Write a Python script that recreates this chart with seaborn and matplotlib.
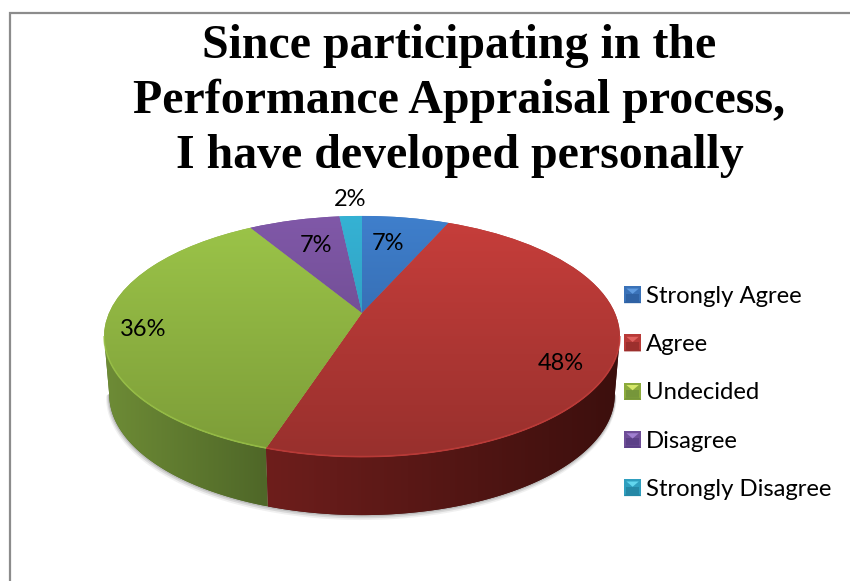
import numpy as np
import matplotlib
matplotlib.use('Agg')
import matplotlib.pyplot as plt
import seaborn as sns
from matplotlib.colors import LinearSegmentedColormap
from matplotlib.legend_handler import HandlerBase
from matplotlib.patches import Patch, Polygon
from matplotlib.path import Path
from matplotlib.transforms import Transform

title = 'Since participating in the\nPerformance Appraisal process,\nI have developed personally'
categories = ['Strongly Agree', 'Agree', 'Undecided', 'Disagree', 'Strongly Disagree']
# these round to the printed 7/48/36/7/2
values = [6.6, 48.4, 36.4, 6.9, 1.7]

# top face gradient (far edge, near edge), side gradient (left, right)
base_colors = ['#3a72bd', '#b03432', '#8dae41', '#73509a', '#2fa3c4']
top_colors = [('#3f7fcc', '#2c5a96'), ('#c73e3b', '#98302d'), ('#9cc549', '#7c9c38'),
              ('#8058a8', '#61437f'), ('#35b2d4', '#2a8cab')]
side_colors = [('#2c5a96', '#1e4070'), ('#6e1e1c', '#3c0f0d'), ('#6e8c36', '#4f6728'),
               ('#61437f', '#47305f'), ('#2a8cab', '#1e6a82')]
key_colors = [('#5f9be0', '#3a72b8', '#2f62a4'), ('#e0625f', '#b83a38', '#9c2f2d'),
              ('#d6e86a', '#8cab3c', '#76963a'), ('#a07fd0', '#6f4e98', '#5c4088'),
              ('#62d6ee', '#2f9fbf', '#2588a6')]

# where the percent labels sit on the page
label_pos = [(388, 244), (561, 364), (143, 329), (316, 246), (350, 200)]

# pie geometry in pixels (perspective view of a unit circle)
CX, CY = 362, 313
A, B, K = 253, 116, 0.195
DEPTH = 58
TOP, BOTTOM = 216, 457


class Perspective(Transform):
    input_dims = output_dims = 2
    is_separable = False
    has_inverse = False

    def transform_non_affine(self, values):
        xy = np.asarray(values, dtype=float)
        w = 1 + K * xy[:, 1]
        return np.column_stack([CX + A * xy[:, 0] / w, CY - B * xy[:, 1] / w])

    def transform_path_non_affine(self, path):
        return Path(self.transform_non_affine(path.vertices), path.codes)


class BevelKey(HandlerBase):
    def create_artists(self, legend, orig_handle, xdescent, ydescent, width, height, fontsize, trans):
        light, mid, dark = orig_handle.key_shades
        x0, y0 = -xdescent, -ydescent
        x1, y1 = x0 + width, y0 + height
        mx, my = x0 + width / 2, y0 + height * 0.55
        inner = width * 0.14
        parts = [
            ([(x0, y0), (x1, y0), (x1, y1), (x0, y1)], mid),
            ([(x0, y0), (x1, y0), (x1 - inner, y0 + inner), (x0 + inner, y0 + inner)], dark),
            ([(x0 + inner, y0 + inner), (x1 - inner, y0 + inner), (x1 - inner, my), (x0 + inner, my)], dark),
            ([(x0 + inner, y1 - inner), (x1 - inner, y1 - inner), (mx, my)], light),
        ]
        out = []
        for pts, col in parts:
            poly = Polygon(pts, closed=True, facecolor=col, edgecolor='none', transform=trans)
            out.append(poly)
        return out


sns.set_theme(style='white')
plt.rcParams['font.family'] = ['Lato', 'DejaVu Sans']

fig, ax = plt.subplots(figsize=(8.5, 5.81), dpi=100)
ax.set_position([0, 0, 1, 1])

wedges, _, pct_texts = ax.pie(values, colors=base_colors, startangle=90, counterclock=False,
                              autopct='%.0f%%', wedgeprops={'linewidth': 0})
persp = Perspective()


def rim(t):
    return persp.transform(np.column_stack([np.cos(t), np.sin(t)]))


def gradient(cols, horizontal, extent, clip, z):
    cmap = LinearSegmentedColormap.from_list('g', cols)
    g = np.linspace(0, 1, 256)
    g = g.reshape(1, -1) if horizontal else g.reshape(-1, 1)
    im = ax.imshow(g, cmap=cmap, extent=extent, aspect='auto', zorder=z, interpolation='bilinear')
    im.set_clip_path(clip)


# front of the pie runs between the two silhouette points of the rim
front0 = np.pi + np.arcsin(K)
front1 = 2 * np.pi - np.arcsin(K)
edge = rim(np.linspace(front0, front1, 300))
lower = np.column_stack([CX + (edge[:, 0] - CX) * 0.98, edge[:, 1] + DEPTH])
xmin, xmax = edge[:, 0].min(), edge[:, 0].max()

# soft shadow under the wall
for off, lw, al in [(2.5, 3.5, 0.10), (1.5, 2.5, 0.18), (0.5, 1.5, 0.25)]:
    ax.plot(lower[:, 0] - off * 0.3, lower[:, 1] + off, color='#707070', lw=lw, alpha=al, zorder=1)

for i, w in enumerate(wedges):
    w.set_transform(persp + ax.transData)
    w.set_zorder(4)
    gradient(top_colors[i], False, (xmin, xmax, BOTTOM, TOP), w, 5)

    # matplotlib keeps the wedge angles in degrees, front arc is what shows
    t1, t2 = np.radians(w.theta1) % (2 * np.pi), np.radians(w.theta2) % (2 * np.pi)
    if t2 <= t1:
        t2 += 2 * np.pi
    for shift in (0, 2 * np.pi):
        a, b = max(t1, front0 + shift), min(t2, front1 + shift)
        if b <= a:
            continue
        up = rim(np.linspace(a, b, 120))
        down = np.column_stack([CX + (up[:, 0] - CX) * 0.98, up[:, 1] + DEPTH])
        wall = Polygon(np.vstack([up, down[::-1]]), closed=True, facecolor=side_colors[i][1],
                       edgecolor='none', zorder=2)
        ax.add_patch(wall)
        x_a, x_b = sorted((up[0, 0], up[-1, 0]))
        gradient(side_colors[i], True, (x_a, x_b, up[:, 1].max() + DEPTH + 2, up[:, 1].min()), wall, 3)
        ax.plot(up[:, 0], up[:, 1] - 0.5, color=top_colors[i][0], lw=1.2, alpha=0.7, zorder=6,
                solid_capstyle='butt')

for txt, pos in zip(pct_texts, label_pos):
    txt.set_position(pos)
    txt.set_transform(ax.transData)
    txt.set_fontsize(17)
    txt.set_color('black')
    txt.set_ha('center')
    txt.set_va('center')
    txt.set_zorder(8)

# page border
ax.plot([10, 10, 850], [581, 13, 13], color='#8c8c8c', lw=1.6, zorder=1, solid_joinstyle='miter')

ax.text(459.5, 101, title, ha='center', va='center', color='black', fontsize=34.5,
        family='Liberation Serif', fontweight='bold', linespacing=1.33, zorder=8)

handles = []
for name, shades in zip(categories, key_colors):
    h = Patch(label=name)
    h.key_shades = shades
    handles.append(h)
ax.legend(handles=handles, handler_map={Patch: BevelKey()}, loc='upper left',
          bbox_to_anchor=(624, 286), bbox_transform=ax.transData, frameon=False,
          fontsize=17.2, borderpad=0, borderaxespad=0, handlelength=0.72, handleheight=0.72,
          handletextpad=0.2, labelspacing=1.14, labelcolor='black')

ax.set_aspect('auto')
ax.set_xlim(0, 850)
ax.set_ylim(581, 0)
ax.axis('off')
fig.savefig('out.png', dpi=100, facecolor='white')
